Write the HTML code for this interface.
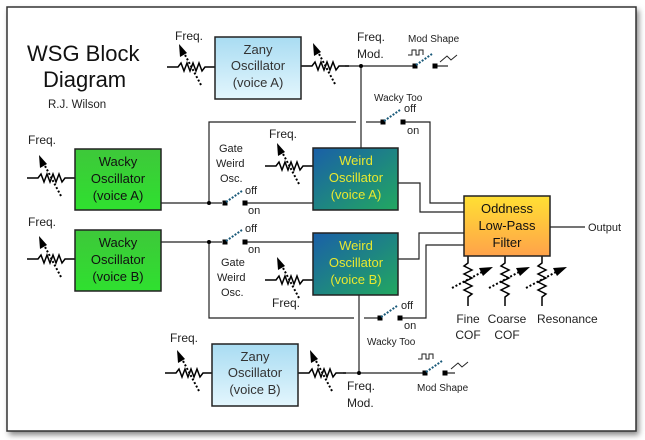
<!DOCTYPE html>
<html><head><meta charset="utf-8"><style>
html,body{margin:0;padding:0;background:#fff;}
svg{display:block;font-family:"Liberation Sans",Arial,sans-serif;}
</style></head><body>
<svg width="645" height="440" viewBox="0 0 645 440" xmlns="http://www.w3.org/2000/svg">
<defs>
<linearGradient id="zany" x1="0" y1="0" x2="0" y2="1"><stop offset="0" stop-color="#a9dcf2"/><stop offset="1" stop-color="#e3f6fd"/></linearGradient>
<linearGradient id="wacky" x1="0" y1="0" x2="0" y2="1"><stop offset="0" stop-color="#3ec83a"/><stop offset="1" stop-color="#2fe02f"/></linearGradient>
<linearGradient id="weird" x1="0" y1="0" x2="1" y2="1"><stop offset="0" stop-color="#1a5fa8"/><stop offset="1" stop-color="#22a860"/></linearGradient>
<linearGradient id="filt" x1="0" y1="0" x2="0" y2="1"><stop offset="0" stop-color="#ffe033"/><stop offset="1" stop-color="#ffa24a"/></linearGradient>
<filter id="sh" x="-5%" y="-5%" width="110%" height="110%"><feGaussianBlur stdDeviation="3"/></filter>
<g id="resH" fill="none" stroke="#000">
  <polyline stroke-width="1.5" points="0,0 11,0 14,-4 17,4 20,-4 23,4 26,-4 29,4 32,-4 35,4 38,0 48,0"/>
  <line stroke-width="2" stroke-dasharray="2,2" x1="34" y1="18" x2="17" y2="-14"/>
  <polygon fill="#000" stroke="none" points="12,-23 13,-10 20,-14"/>
</g>
<g id="resV" fill="none" stroke="#000">
  <polyline stroke-width="1.5" points="0,0 0,7 -4,10 4,14 -4,18 4,22 -4,26 4,30 -4,34 4,38 0,41 0,50"/>
  <line stroke-width="2" stroke-dasharray="2,2" x1="-16" y1="32" x2="14" y2="16"/>
  <polygon fill="#000" stroke="none" points="25,11 11,12 15,20"/>
</g>
<g id="sw">
  <rect x="-2.5" y="-2.5" width="5" height="5" fill="#000"/>
  <line x1="1" y1="-1" x2="17" y2="-12" stroke="#1a5a7a" stroke-width="2" stroke-dasharray="2,1.5"/>
  <rect x="17.5" y="-2.5" width="5" height="5" fill="#000"/>
</g>
</defs>
<rect x="9" y="10" width="630" height="425" fill="#888" filter="url(#sh)"/>
<rect x="7" y="7" width="629" height="424" fill="#fff" stroke="#333" stroke-width="1.5"/>

<g font-size="12" fill="#222">
<text x="27" y="61" font-size="22" fill="#111">WSG Block</text>
<text x="43" y="87" font-size="22" fill="#111">Diagram</text>
<text x="48" y="108" font-size="11.5">R.J. Wilson</text>
</g>

<g stroke="#222" stroke-width="1.2" fill="none">
<!-- top -->
<line x1="345" y1="66" x2="413" y2="66"/>
<line x1="361" y1="66" x2="361" y2="148"/>
<line x1="437" y1="66" x2="448" y2="66"/>
<!-- wacky too A -->
<polyline points="209,203 209,122 356,122"/>
<line x1="366" y1="122" x2="381" y2="122"/>
<polyline points="403,122 430,122 430,203 464,203"/>
<polyline points="398,183 420,183 420,212 464,212"/>
<!-- gate A -->
<line x1="161" y1="203" x2="222" y2="203"/>
<line x1="245" y1="203" x2="313" y2="203"/>
<!-- gate B -->
<line x1="161" y1="242" x2="222" y2="242"/>
<line x1="245" y1="242" x2="313" y2="242"/>
<polyline points="209,242 209,318 354,318"/>
<line x1="364" y1="318" x2="378" y2="318"/>
<polyline points="400,318 426,318 426,245 464,245"/>
<polyline points="398,259 419,259 419,233 464,233"/>
<!-- bottom -->
<line x1="359" y1="295" x2="359" y2="373"/>
<line x1="343" y1="373" x2="423" y2="373"/>
<line x1="447" y1="373" x2="455" y2="373"/>
<!-- output -->
<line x1="550" y1="227" x2="585" y2="227"/>
</g>
<g fill="#000">
<circle cx="361" cy="66" r="2"/><circle cx="209" cy="203" r="2"/><circle cx="209" cy="242" r="2"/><circle cx="359" cy="373" r="2"/>
</g>

<!-- switches -->
<use href="#sw" x="415" y="66"/>
<use href="#sw" x="383" y="122"/>
<use href="#sw" x="225" y="203"/>
<use href="#sw" x="225" y="242"/>
<use href="#sw" x="380" y="318"/>
<use href="#sw" x="425" y="373"/>
<!-- waveform symbols -->
<g fill="none" stroke="#222" stroke-width="1">
<polyline points="408,55 412,55 412,50 416,50 416,55 419,55 419,50 423,50 423,55"/>
<polyline points="440,62 447,56 451,60 457,55"/>
<polyline points="418,359 422,359 422,354 426,354 426,359 429,359 429,354 433,354 433,359"/>
<polyline points="451,369 458,363 462,367 468,362"/>
</g>

<!-- resistors -->
<use href="#resH" x="167" y="67"/>
<use href="#resH" x="301" y="66"/>
<use href="#resH" x="27" y="178"/>
<use href="#resH" x="265" y="166"/>
<use href="#resH" x="27" y="259"/>
<use href="#resH" x="265" y="280"/>
<use href="#resH" x="165" y="373"/>
<use href="#resH" x="298" y="373"/>
<use href="#resV" x="468" y="256"/>
<use href="#resV" x="505" y="256"/>
<use href="#resV" x="542" y="256"/>

<!-- boxes -->
<g stroke="#222" stroke-width="1.5">
<rect x="215" y="37" width="86" height="62" fill="url(#zany)"/>
<rect x="212" y="344" width="86" height="62" fill="url(#zany)"/>
<rect x="75" y="149" width="86" height="61" fill="url(#wacky)"/>
<rect x="75" y="230" width="86" height="61" fill="url(#wacky)"/>
<rect x="313" y="148" width="85" height="62" fill="url(#weird)"/>
<rect x="313" y="233" width="85" height="62" fill="url(#weird)"/>
<rect x="464" y="196" width="86" height="60" fill="url(#filt)"/>
</g>
<g font-size="13" text-anchor="middle" fill="#333">
<text x="258" y="54">Zany</text><text x="258" y="70">Oscillator</text><text x="258" y="87">(voice A)</text>
<text x="255" y="361">Zany</text><text x="255" y="377">Oscillator</text><text x="255" y="394">(voice B)</text>
<text x="118" y="166" fill="#111">Wacky</text><text x="118" y="183" fill="#111">Oscillator</text><text x="118" y="200" fill="#111">(voice A)</text>
<text x="118" y="247" fill="#111">Wacky</text><text x="118" y="264" fill="#111">Oscillator</text><text x="118" y="281" fill="#111">(voice B)</text>
<text x="356" y="165" fill="#e8e830">Weird</text><text x="356" y="182" fill="#e8e830">Oscillator</text><text x="356" y="199" fill="#e8e830">(voice A)</text>
<text x="356" y="250" fill="#e8e830">Weird</text><text x="356" y="267" fill="#e8e830">Oscillator</text><text x="356" y="284" fill="#e8e830">(voice B)</text>
<text x="507" y="213" fill="#111">Oddness</text><text x="507" y="230" fill="#111">Low-Pass</text><text x="507" y="247" fill="#111">Filter</text>
</g>

<g font-size="12" fill="#222">
<text x="175" y="40">Freq.</text>
<text x="357" y="41">Freq.</text><text x="357" y="58">Mod.</text>
<text x="408" y="42" font-size="10">Mod Shape</text>
<text x="374" y="101" font-size="10">Wacky Too</text>
<text x="404" y="112" font-size="11">off</text><text x="407" y="134" font-size="11">on</text>
<text x="28" y="144">Freq.</text>
<text x="269" y="138">Freq.</text>
<text x="219" y="152" font-size="11">Gate</text><text x="216" y="167" font-size="11">Weird</text><text x="220" y="182" font-size="11">Osc.</text>
<text x="245" y="194" font-size="11">off</text><text x="248" y="214" font-size="11">on</text>
<text x="28" y="226">Freq.</text>
<text x="245" y="232" font-size="11">off</text><text x="248" y="253" font-size="11">on</text>
<text x="221" y="266" font-size="11">Gate</text><text x="217" y="281" font-size="11">Weird</text><text x="221" y="296" font-size="11">Osc.</text>
<text x="272" y="307">Freq.</text>
<text x="401" y="309" font-size="11">off</text><text x="404" y="329" font-size="11">on</text>
<text x="367" y="345" font-size="10">Wacky Too</text>
<text x="170" y="342">Freq.</text>
<text x="347" y="390">Freq.</text><text x="347" y="407">Mod.</text>
<text x="417" y="391" font-size="10">Mod Shape</text>
<text x="588" y="231" font-size="11">Output</text>
<text x="468" y="323" text-anchor="middle">Fine</text><text x="468" y="339" text-anchor="middle">COF</text>
<text x="507" y="323" text-anchor="middle">Coarse</text><text x="507" y="339" text-anchor="middle">COF</text>
<text x="537" y="323">Resonance</text>
</g>
</svg>
</body></html>
